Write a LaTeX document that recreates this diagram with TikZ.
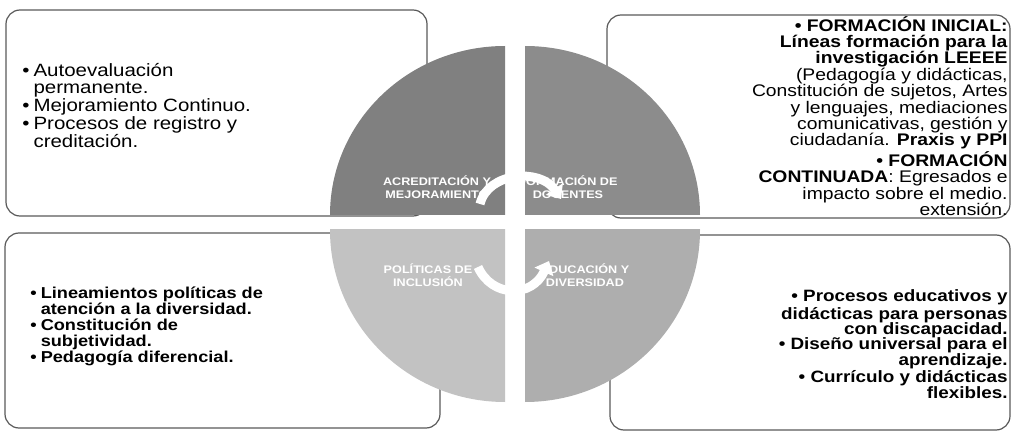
\documentclass[tikz,border=0pt]{standalone}
\usepackage{fontspec}
\setmainfont[FakeStretch=1.15]{Liberation Sans}
\usetikzlibrary{arrows.meta}

\definecolor{quadTL}{HTML}{808080}
\definecolor{quadTR}{HTML}{8C8C8C}
\definecolor{quadBL}{HTML}{C2C2C2}
\definecolor{quadBR}{HTML}{AEAEAE}

\begin{document}
\begin{tikzpicture}[
    x=0.5pt, y=-0.5pt,
    >={Triangle[width=10pt,length=6pt]}, % tip of the white cycle arrows
    box/.style={draw=black!65, line width=0.6pt, rounded corners=7pt}, % corner boxes
    boxtext/.style={inner sep=0pt, font=\fontsize{8.4}{8.2}\selectfont},
    quadlabel/.style={white, inner sep=0pt, align=center, font=\fontsize{5.5}{6.2}\selectfont\bfseries},
    cyclearrow/.style={->, white, line width=4.5pt}
]
    \useasboundingbox (0,0) rectangle (1013,433);

    % Inner corners of the four quarters of the circle
    \coordinate (cTL) at (505,215);
    \coordinate (cTR) at (525,215);
    \coordinate (cBL) at (505,230);
    \coordinate (cBR) at (525,230);

    % ############# CORNER BOXES
    \draw[box] (6,10) rectangle (427,216);    % top left
    \draw[box] (607,15) rectangle (1010,218); % top right
    \draw[box] (5,233) rectangle (440,428);   % bottom left
    \draw[box] (610,235) rectangle (1010,430);% bottom right

    % ############# QUARTERS OF THE CIRCLE
    \begin{scope}
        \clip (cTL) rectangle (300,0);
        \fill[quadTL] (cTL) ellipse [x radius=175, y radius=169];
    \end{scope}
    \begin{scope}
        \clip (cTR) rectangle (720,0);
        \fill[quadTR] (cTR) ellipse [x radius=175, y radius=169];
    \end{scope}
    \begin{scope}
        \clip (cBL) rectangle (300,433);
        \fill[quadBL] (cBL) ellipse [x radius=175, y radius=172];
    \end{scope}
    \begin{scope}
        \clip (cBR) rectangle (720,433);
        \fill[quadBR] (cBR) ellipse [x radius=175, y radius=172];
    \end{scope}

    % Labels inside the quarters
    \node[quadlabel] (acreditacion) at (437,187) {ACREDITACIÓN Y\\MEJORAMIENTO};
    \node[quadlabel] (formacion) at (568,187) {FORMACIÓN DE\\DOCENTES};
    \node[quadlabel] (politicas) at (428,275) {POLÍTICAS DE\\INCLUSIÓN};
    \node[quadlabel] (educacion) at (585,275) {EDUCACIÓN Y\\DIVERSIDAD};

    % White arrows round the centre
    \coordinate (up_start) at (480,204);
    \coordinate (up_end) at (561,199);
    \coordinate (down_start) at (478,267);
    \coordinate (down_end) at (549,261);
    \draw[cyclearrow] (up_start) .. controls (488,172) and (540,168) .. (up_end);
    \draw[cyclearrow] (down_start) .. controls (492,298) and (532,298) .. (down_end);

    % ############# TEXTS OF THE BOXES
    \node[boxtext, anchor=west, font=\fontsize{8.9}{8.4}\selectfont] (acredText) at (22,108) {%
        \begin{tabular}{@{}l@{\hspace{2pt}}l@{}}
        \textbullet & Autoevaluación\\
                    & permanente.\\
        \textbullet & Mejoramiento Continuo.\\
        \textbullet & Procesos de registro y\\
                    & creditación.
        \end{tabular}};

    \node[boxtext, anchor=east, align=right] (formText) at (1008,116) {%
        \textbf{\textbullet{} FORMACIÓN INICIAL:}\\
        \textbf{Líneas formación para la}\\
        \textbf{investigación LEEEE}\\
        (Pedagogía y didácticas,\\
        Constitución de sujetos, Artes\\
        y lenguajes, mediaciones\\
        comunicativas, gestión y\\
        ciudadanía. \textbf{Praxis y PPI}\\
        \textbf{\textbullet{} FORMACIÓN}\\
        \textbf{CONTINUADA}: Egresados e\\
        impacto sobre el medio.\\
        extensión.};

    \node[boxtext, anchor=west, font=\fontsize{7.9}{7.4}\selectfont\bfseries] (polText) at (30,327) {%
        \begin{tabular}{@{}l@{\hspace{2pt}}l@{}}
        \textbullet & Lineamientos políticas de\\
                    & atención a la diversidad.\\
        \textbullet & Constitución de\\
                    & subjetividad.\\
        \textbullet & Pedagogía diferencial.
        \end{tabular}};

    \node[boxtext, anchor=east, align=right, font=\fontsize{8.2}{7.7}\selectfont\bfseries] (eduText) at (1008,344) {%
        \textbullet{} Procesos educativos y\\
        didácticas para personas\\
        con discapacidad.\\
        \textbullet{} Diseño universal para el\\
        aprendizaje.\\
        \textbullet{} Currículo y didácticas\\
        flexibles.};

\end{tikzpicture}
\end{document}
